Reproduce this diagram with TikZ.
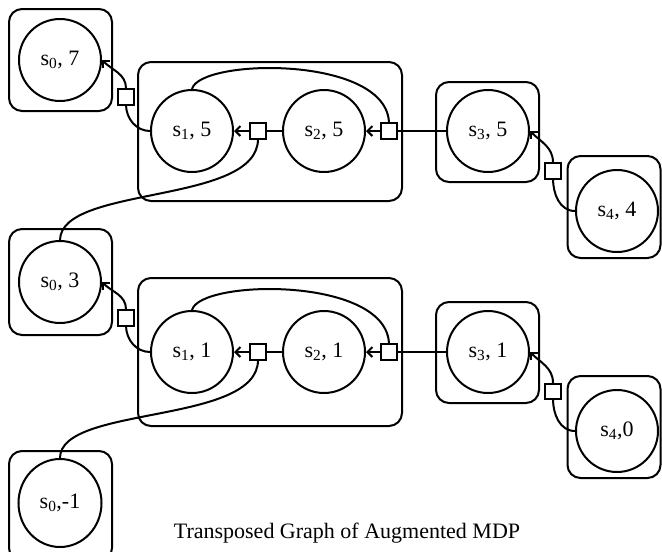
\documentclass[tikz,border=0pt]{standalone}
\usepackage{fontspec}
\setmainfont{Liberation Serif}
\usetikzlibrary{arrows.meta,shapes.geometric}
\begin{document}
\begin{tikzpicture}[x=1pt,y=-1pt,line width=2pt,
  state/.style={circle,draw,minimum size=82pt,inner sep=0pt,font=\fontsize{22}{24}\selectfont},
  frame/.style={draw,rectangle,rounded corners=13pt,inner sep=0pt},
  act/.style={draw,fill=white,rectangle,minimum size=15.5pt,inner sep=0pt,line width=1.8pt},
  tip/.style={-{Straight Barb[length=5pt,width=10pt]}}]
\useasboundingbox (0,0) rectangle (662,552);

% ---------- upper augmented level ----------
\node[frame,minimum width=103pt,minimum height=102pt] (F07) at (60.5,60) {};
\node[state] (S07) at (60,60) {s\textsubscript{0}, 7};
\node[frame,minimum width=264pt,minimum height=139pt] (F12a) at (270,131.5) {};
\node[state] (S15) at (192,131) {s\textsubscript{1}, 5};
\node[state] (S25) at (324,131) {s\textsubscript{2}, 5};
\node[frame,minimum width=103pt,minimum height=100pt] (F35) at (487.5,132) {};
\node[state] (S35) at (488,131) {s\textsubscript{3}, 5};
\node[frame,minimum width=93pt,minimum height=102pt] (F44) at (614,207) {};
\node[state] (S44) at (617,211) {s\textsubscript{4}, 4};

% ---------- lower augmented level ----------
\node[frame,minimum width=103pt,minimum height=106pt] (F03) at (60.5,282) {};
\node[state] (S03) at (60,282) {s\textsubscript{0}, 3};
\node[frame,minimum width=264pt,minimum height=148pt] (F12b) at (270,352) {};
\node[state] (S11) at (192,352) {s\textsubscript{1}, 1};
\node[state] (S21) at (324,352) {s\textsubscript{2}, 1};
\node[frame,minimum width=103pt,minimum height=101pt] (F31) at (487.5,352.5) {};
\node[state] (S31) at (488,352) {s\textsubscript{3}, 1};
\node[frame,minimum width=93pt,minimum height=102pt] (F40) at (614,427) {};
\node[state] (S40) at (617,431) {s\textsubscript{4},0};
\node[frame,minimum width=103pt,minimum height=110pt] (F0m) at (60.5,506) {};
\node[state,ellipse,minimum width=83pt,minimum height=88pt] (S0m) at (60,503) {s\textsubscript{0},-1};

% ---------- connectors, upper level ----------
\draw (S25) -- (258,131) coordinate (p25);
\draw (S35.west) -- (389,131) coordinate (p35);
\draw (S15.north) .. controls (200,58) and (389,55) .. (389,124) coordinate (p35n);
\draw (S15.west) to[out=180,in=-90] (126,104.5) coordinate (p15s);
\draw (S44.west) to[out=180,in=-90] (553,178.5) coordinate (p44s);
\draw (S03.north) .. controls (61,185) and (258,205) .. (258,139) coordinate (p25s);

\node[act] (a15) at (126,97) {};
\node[act] (a25) at (258,131) {};
\node[act] (a35) at (389,131) {};
\node[act] (a44) at (553,171) {};

\draw[tip] (a25) -- (S15);
\draw[tip] (a35) -- (S25);
\draw[tip] (a15.north) to[out=90,in=-45] (S07.east);
\draw[tip] (a44.north) to[out=90,in=-45] (S35.east);

% ---------- connectors, lower level ----------
\draw (S21) -- (258,352) coordinate (p21);
\draw (S31.west) -- (389,352) coordinate (p31);
\draw (S11.north) .. controls (200,279) and (389,276) .. (389,345) coordinate (p31n);
\draw (S11.west) to[out=180,in=-90] (126,325.5) coordinate (p11s);
\draw (S40.west) to[out=180,in=-90] (553,399) coordinate (p40s);
\draw (S0m.north) .. controls (60,405) and (258,425) .. (258,360) coordinate (p21s);

\node[act] (a11) at (126,318) {};
\node[act] (a21) at (258,352) {};
\node[act] (a31) at (389,352) {};
\node[act] (a40) at (553,391.5) {};

\draw[tip] (a21) -- (S11);
\draw[tip] (a31) -- (S21);
\draw[tip] (a11.north) to[out=90,in=-45] (S03.east);
\draw[tip] (a40.north) to[out=90,in=-45] (S31.east);

\node[anchor=base,font=\fontsize{22}{24}\selectfont] (cap) at (347,538) {Transposed Graph of Augmented MDP};
\end{tikzpicture}
\end{document}
